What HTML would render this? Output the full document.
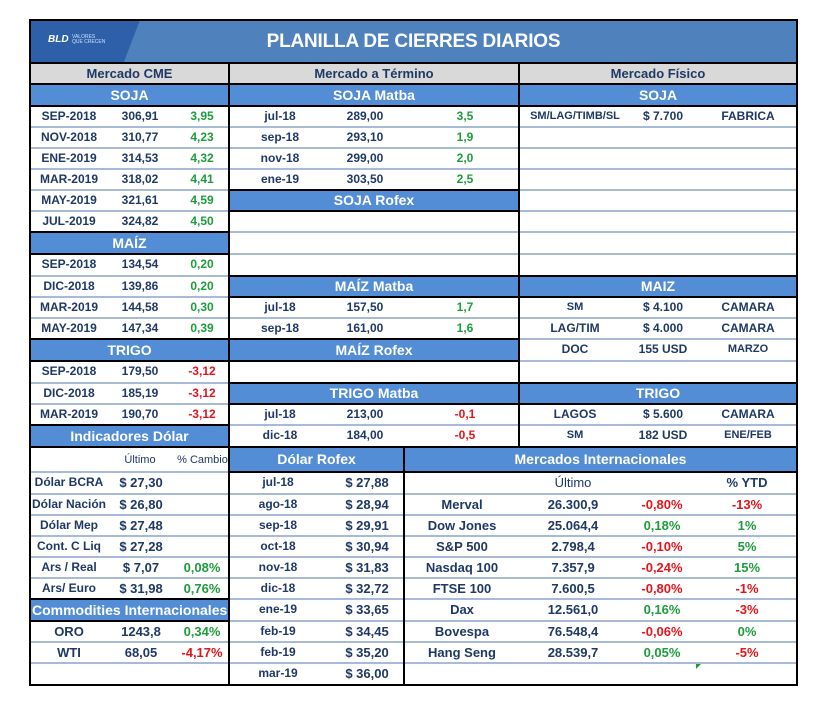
<!DOCTYPE html>
<html><head><meta charset="utf-8"><style>
body{margin:0;width:821px;height:705px;background:#fff;position:relative;overflow:hidden;font-family:"Liberation Sans",sans-serif}
div{position:absolute;box-sizing:border-box}
.t{color:#1f3864;font-weight:bold;font-size:12px;text-align:center;white-space:nowrap;height:21px;line-height:21px}
.g{color:#1e9c3c}.r{color:#e3141c}
.hb{background:#538dd5}
.h{color:#fff;font-weight:bold;font-size:14px;text-align:center;white-space:nowrap;height:22px;line-height:22px;overflow:hidden}
.s{height:2px;background:#a7bad6}
.k{background:#000}
</style></head><body>
<!-- title -->
<div style="left:30px;top:20px;width:767px;height:43px;background:#4f81bd"></div>
<div style="left:30px;top:20px;width:110px;height:43px;background:#2d60a9;clip-path:polygon(0 0,100% 0,85% 100%,0 100%)"></div>
<div style="left:48px;top:34px;color:#fff;font:bold italic 10px 'Liberation Sans',sans-serif">BLD</div>
<div style="left:72px;top:35px;color:#cfe0f5;font:5px 'Liberation Sans',sans-serif;line-height:5px">VALORES<br>QUE CRECEN</div>
<div style="left:30px;top:20px;width:767px;height:43px;line-height:43px;text-align:center;color:#fff;font-weight:bold;font-size:19px;letter-spacing:-0.2px">PLANILLA DE CIERRES DIARIOS</div>
<!-- gray header -->
<div style="left:30px;top:63px;width:767px;height:21px;background:#d9d9d9"></div>
<div class="t" style="left:30px;top:63px;width:199px;font-size:13px">Mercado CME</div>
<div class="t" style="left:229px;top:63px;width:290px;font-size:13px">Mercado a Término</div>
<div class="t" style="left:519px;top:63px;width:278px;font-size:13px">Mercado Físico</div>
<!-- separators top part -->
<div class="s" style="left:30px;top:126px;width:767px"></div>
<div class="s" style="left:30px;top:147px;width:767px"></div>
<div class="s" style="left:30px;top:168px;width:767px"></div>
<div class="s" style="left:30px;top:189px;width:767px"></div>
<div class="s" style="left:30px;top:210px;width:767px"></div>
<div class="s" style="left:30px;top:231px;width:767px"></div>
<div class="s" style="left:30px;top:253px;width:767px"></div>
<div class="s" style="left:30px;top:275px;width:767px"></div>
<div class="s" style="left:30px;top:296px;width:767px"></div>
<div class="s" style="left:30px;top:317px;width:767px"></div>
<div class="s" style="left:30px;top:338px;width:767px"></div>
<div class="s" style="left:30px;top:360px;width:767px"></div>
<div class="s" style="left:30px;top:382px;width:767px"></div>
<div class="s" style="left:30px;top:403px;width:767px"></div>
<div class="s" style="left:30px;top:424px;width:767px"></div>
<!-- bottom separators -->
<div class="s" style="left:30px;top:471px;width:767px"></div>
<div class="s" style="left:30px;top:493px;width:767px"></div>
<div class="s" style="left:30px;top:514px;width:767px"></div>
<div class="s" style="left:30px;top:535px;width:767px"></div>
<div class="s" style="left:30px;top:556px;width:767px"></div>
<div class="s" style="left:30px;top:577px;width:767px"></div>
<div class="s" style="left:30px;top:598px;width:767px"></div>
<div class="s" style="left:30px;top:620px;width:767px"></div>
<div class="s" style="left:30px;top:641px;width:767px"></div>
<div class="s" style="left:30px;top:662px;width:767px"></div>
<!-- blue headers -->
<div class="hb h" style="left:30px;top:84px;width:199px">SOJA</div>
<div class="hb h" style="left:229px;top:84px;width:290px">SOJA Matba</div>
<div class="hb h" style="left:519px;top:84px;width:278px">SOJA</div>
<div class="hb h" style="left:229px;top:190px;width:290px;height:21px;line-height:21px">SOJA Rofex</div>
<div class="hb h" style="left:30px;top:232px;width:199px">MAÍZ</div>
<div class="hb h" style="left:229px;top:276px;width:290px;height:21px;line-height:21px">MAÍZ Matba</div>
<div class="hb h" style="left:519px;top:276px;width:278px;height:21px;line-height:21px">MAIZ</div>
<div class="hb h" style="left:30px;top:339px;width:199px">TRIGO</div>
<div class="hb h" style="left:229px;top:339px;width:290px">MAÍZ Rofex</div>
<div class="hb h" style="left:229px;top:383px;width:290px;height:21px;line-height:21px">TRIGO Matba</div>
<div class="hb h" style="left:519px;top:383px;width:278px;height:21px;line-height:21px">TRIGO</div>
<div class="hb h" style="left:30px;top:425px;width:199px">Indicadores Dólar</div>
<div class="hb h" style="left:229px;top:447px;width:175px;height:25px;line-height:25px">Dólar Rofex</div>
<div class="hb h" style="left:404px;top:447px;width:393px;height:25px;line-height:25px">Mercados Internacionales</div>
<div class="hb h" style="left:30px;top:599px;width:199px;text-align:left;padding-left:2px">Commodities Internacionales</div>
<!-- CME rows -->
<div class="t" style="left:30px;top:106px;width:78px">SEP-2018</div><div class="t" style="left:112px;top:106px;width:56px">306,91</div><div class="t g" style="left:180px;top:106px;width:44px">3,95</div>
<div class="t" style="left:30px;top:127px;width:78px">NOV-2018</div><div class="t" style="left:112px;top:127px;width:56px">310,77</div><div class="t g" style="left:180px;top:127px;width:44px">4,23</div>
<div class="t" style="left:30px;top:148px;width:78px">ENE-2019</div><div class="t" style="left:112px;top:148px;width:56px">314,53</div><div class="t g" style="left:180px;top:148px;width:44px">4,32</div>
<div class="t" style="left:30px;top:169px;width:78px">MAR-2019</div><div class="t" style="left:112px;top:169px;width:56px">318,02</div><div class="t g" style="left:180px;top:169px;width:44px">4,41</div>
<div class="t" style="left:30px;top:190px;width:78px">MAY-2019</div><div class="t" style="left:112px;top:190px;width:56px">321,61</div><div class="t g" style="left:180px;top:190px;width:44px">4,59</div>
<div class="t" style="left:30px;top:211px;width:78px">JUL-2019</div><div class="t" style="left:112px;top:211px;width:56px">324,82</div><div class="t g" style="left:180px;top:211px;width:44px">4,50</div>
<div class="t" style="left:30px;top:254px;width:78px">SEP-2018</div><div class="t" style="left:112px;top:254px;width:56px">134,54</div><div class="t g" style="left:180px;top:254px;width:44px">0,20</div>
<div class="t" style="left:30px;top:276px;width:78px">DIC-2018</div><div class="t" style="left:112px;top:276px;width:56px">139,86</div><div class="t g" style="left:180px;top:276px;width:44px">0,20</div>
<div class="t" style="left:30px;top:297px;width:78px">MAR-2019</div><div class="t" style="left:112px;top:297px;width:56px">144,58</div><div class="t g" style="left:180px;top:297px;width:44px">0,30</div>
<div class="t" style="left:30px;top:318px;width:78px">MAY-2019</div><div class="t" style="left:112px;top:318px;width:56px">147,34</div><div class="t g" style="left:180px;top:318px;width:44px">0,39</div>
<div class="t" style="left:30px;top:361px;width:78px">SEP-2018</div><div class="t" style="left:112px;top:361px;width:56px">179,50</div><div class="t r" style="left:180px;top:361px;width:44px">-3,12</div>
<div class="t" style="left:30px;top:383px;width:78px">DIC-2018</div><div class="t" style="left:112px;top:383px;width:56px">185,19</div><div class="t r" style="left:180px;top:383px;width:44px">-3,12</div>
<div class="t" style="left:30px;top:404px;width:78px">MAR-2019</div><div class="t" style="left:112px;top:404px;width:56px">190,70</div><div class="t r" style="left:180px;top:404px;width:44px">-3,12</div>
<!-- Mercado a termino -->
<div class="t" style="left:250px;top:106px;width:60px">jul-18</div><div class="t" style="left:335px;top:106px;width:60px">289,00</div><div class="t g" style="left:445px;top:106px;width:40px">3,5</div>
<div class="t" style="left:250px;top:127px;width:60px">sep-18</div><div class="t" style="left:335px;top:127px;width:60px">293,10</div><div class="t g" style="left:445px;top:127px;width:40px">1,9</div>
<div class="t" style="left:250px;top:148px;width:60px">nov-18</div><div class="t" style="left:335px;top:148px;width:60px">299,00</div><div class="t g" style="left:445px;top:148px;width:40px">2,0</div>
<div class="t" style="left:250px;top:169px;width:60px">ene-19</div><div class="t" style="left:335px;top:169px;width:60px">303,50</div><div class="t g" style="left:445px;top:169px;width:40px">2,5</div>
<div class="t" style="left:250px;top:297px;width:60px">jul-18</div><div class="t" style="left:335px;top:297px;width:60px">157,50</div><div class="t g" style="left:445px;top:297px;width:40px">1,7</div>
<div class="t" style="left:250px;top:318px;width:60px">sep-18</div><div class="t" style="left:335px;top:318px;width:60px">161,00</div><div class="t g" style="left:445px;top:318px;width:40px">1,6</div>
<div class="t" style="left:250px;top:404px;width:60px">jul-18</div><div class="t" style="left:335px;top:404px;width:60px">213,00</div><div class="t r" style="left:445px;top:404px;width:40px">-0,1</div>
<div class="t" style="left:250px;top:425px;width:60px">dic-18</div><div class="t" style="left:335px;top:425px;width:60px">184,00</div><div class="t r" style="left:445px;top:425px;width:40px">-0,5</div>
<!-- Fisico -->
<div class="t" style="left:522px;top:106px;width:106px;font-size:11px">SM/LAG/TIMB/SL</div><div class="t" style="left:633px;top:106px;width:60px">$ 7.700</div><div class="t" style="left:715px;top:106px;width:66px">FABRICA</div>
<div class="t" style="left:545px;top:297px;width:60px;font-size:11px">SM</div><div class="t" style="left:633px;top:297px;width:60px">$ 4.100</div><div class="t" style="left:715px;top:297px;width:66px">CAMARA</div>
<div class="t" style="left:545px;top:318px;width:60px">LAG/TIM</div><div class="t" style="left:633px;top:318px;width:60px">$ 4.000</div><div class="t" style="left:715px;top:318px;width:66px">CAMARA</div>
<div class="t" style="left:545px;top:339px;width:60px">DOC</div><div class="t" style="left:633px;top:339px;width:60px">155 USD</div><div class="t" style="left:715px;top:339px;width:66px;font-size:11px">MARZO</div>
<div class="t" style="left:545px;top:404px;width:60px">LAGOS</div><div class="t" style="left:633px;top:404px;width:60px">$ 5.600</div><div class="t" style="left:715px;top:404px;width:66px">CAMARA</div>
<div class="t" style="left:545px;top:425px;width:60px;font-size:11px">SM</div><div class="t" style="left:633px;top:425px;width:60px">182 USD</div><div class="t" style="left:715px;top:425px;width:66px;font-size:11px">ENE/FEB</div>
<!-- Indicadores dolar -->
<div class="t" style="left:115px;top:449px;width:50px;font-size:11px;font-weight:normal;height:23px;line-height:23px">Último</div>
<div class="t" style="left:176px;top:449px;width:53px;font-size:11px;font-weight:normal;height:23px;line-height:23px;overflow:hidden">% Cambio</div>
<div class="t" style="left:32px;top:472px;width:74px">Dólar BCRA</div><div class="t" style="left:112px;top:472px;width:58px;font-size:13px">$ 27,30</div>
<div class="t" style="left:32px;top:494px;width:74px">Dólar Nación</div><div class="t" style="left:112px;top:494px;width:58px;font-size:13px">$ 26,80</div>
<div class="t" style="left:32px;top:515px;width:74px">Dólar Mep</div><div class="t" style="left:112px;top:515px;width:58px;font-size:13px">$ 27,48</div>
<div class="t" style="left:32px;top:536px;width:74px">Cont. C Liq</div><div class="t" style="left:112px;top:536px;width:58px;font-size:13px">$ 27,28</div>
<div class="t" style="left:32px;top:557px;width:74px">Ars / Real</div><div class="t" style="left:112px;top:557px;width:58px;font-size:13px">$ 7,07</div><div class="t g" style="left:178px;top:557px;width:48px;font-size:13px">0,08%</div>
<div class="t" style="left:32px;top:578px;width:74px">Ars/ Euro</div><div class="t" style="left:112px;top:578px;width:58px;font-size:13px">$ 31,98</div><div class="t g" style="left:178px;top:578px;width:48px;font-size:13px">0,76%</div>
<div class="t" style="left:32px;top:621px;width:74px;font-size:13px">ORO</div><div class="t" style="left:112px;top:621px;width:58px;font-size:13px">1243,8</div><div class="t g" style="left:178px;top:621px;width:48px;font-size:13px">0,34%</div>
<div class="t" style="left:32px;top:642px;width:74px;font-size:13px">WTI</div><div class="t" style="left:112px;top:642px;width:58px;font-size:13px">68,05</div><div class="t r" style="left:178px;top:642px;width:48px;font-size:13px">-4,17%</div>
<!-- Dolar Rofex -->
<div class="t" style="left:250px;top:472px;width:56px">jul-18</div><div class="t" style="left:335px;top:472px;width:64px;font-size:13px">$ 27,88</div>
<div class="t" style="left:250px;top:494px;width:56px">ago-18</div><div class="t" style="left:335px;top:494px;width:64px;font-size:13px">$ 28,94</div>
<div class="t" style="left:250px;top:515px;width:56px">sep-18</div><div class="t" style="left:335px;top:515px;width:64px;font-size:13px">$ 29,91</div>
<div class="t" style="left:250px;top:536px;width:56px">oct-18</div><div class="t" style="left:335px;top:536px;width:64px;font-size:13px">$ 30,94</div>
<div class="t" style="left:250px;top:557px;width:56px">nov-18</div><div class="t" style="left:335px;top:557px;width:64px;font-size:13px">$ 31,83</div>
<div class="t" style="left:250px;top:578px;width:56px">dic-18</div><div class="t" style="left:335px;top:578px;width:64px;font-size:13px">$ 32,72</div>
<div class="t" style="left:250px;top:599px;width:56px">ene-19</div><div class="t" style="left:335px;top:599px;width:64px;font-size:13px">$ 33,65</div>
<div class="t" style="left:250px;top:621px;width:56px">feb-19</div><div class="t" style="left:335px;top:621px;width:64px;font-size:13px">$ 34,45</div>
<div class="t" style="left:250px;top:642px;width:56px">feb-19</div><div class="t" style="left:335px;top:642px;width:64px;font-size:13px">$ 35,20</div>
<div class="t" style="left:250px;top:663px;width:56px">mar-19</div><div class="t" style="left:335px;top:663px;width:64px;font-size:13px">$ 36,00</div>
<!-- Mercados internacionales -->
<div class="t" style="left:540px;top:472px;width:66px;font-size:13px;font-weight:normal">Último</div><div class="t" style="left:720px;top:472px;width:54px;font-size:13px">% YTD</div>
<div class="t" style="left:412px;top:494px;width:100px;font-size:13px">Merval</div><div class="t" style="left:530px;top:494px;width:86px;font-size:13px">26.300,9</div><div class="t r" style="left:625px;top:494px;width:74px;font-size:13px">-0,80%</div><div class="t r" style="left:720px;top:494px;width:54px;font-size:13px">-13%</div>
<div class="t" style="left:412px;top:515px;width:100px;font-size:13px">Dow Jones</div><div class="t" style="left:530px;top:515px;width:86px;font-size:13px">25.064,4</div><div class="t g" style="left:625px;top:515px;width:74px;font-size:13px">0,18%</div><div class="t g" style="left:720px;top:515px;width:54px;font-size:13px">1%</div>
<div class="t" style="left:412px;top:536px;width:100px;font-size:13px">S&amp;P 500</div><div class="t" style="left:530px;top:536px;width:86px;font-size:13px">2.798,4</div><div class="t r" style="left:625px;top:536px;width:74px;font-size:13px">-0,10%</div><div class="t g" style="left:720px;top:536px;width:54px;font-size:13px">5%</div>
<div class="t" style="left:412px;top:557px;width:100px;font-size:13px">Nasdaq 100</div><div class="t" style="left:530px;top:557px;width:86px;font-size:13px">7.357,9</div><div class="t r" style="left:625px;top:557px;width:74px;font-size:13px">-0,24%</div><div class="t g" style="left:720px;top:557px;width:54px;font-size:13px">15%</div>
<div class="t" style="left:412px;top:578px;width:100px;font-size:13px">FTSE 100</div><div class="t" style="left:530px;top:578px;width:86px;font-size:13px">7.600,5</div><div class="t r" style="left:625px;top:578px;width:74px;font-size:13px">-0,80%</div><div class="t r" style="left:720px;top:578px;width:54px;font-size:13px">-1%</div>
<div class="t" style="left:412px;top:599px;width:100px;font-size:13px">Dax</div><div class="t" style="left:530px;top:599px;width:86px;font-size:13px">12.561,0</div><div class="t g" style="left:625px;top:599px;width:74px;font-size:13px">0,16%</div><div class="t r" style="left:720px;top:599px;width:54px;font-size:13px">-3%</div>
<div class="t" style="left:412px;top:621px;width:100px;font-size:13px">Bovespa</div><div class="t" style="left:530px;top:621px;width:86px;font-size:13px">76.548,4</div><div class="t r" style="left:625px;top:621px;width:74px;font-size:13px">-0,06%</div><div class="t g" style="left:720px;top:621px;width:54px;font-size:13px">0%</div>
<div class="t" style="left:412px;top:642px;width:100px;font-size:13px">Hang Seng</div><div class="t" style="left:530px;top:642px;width:86px;font-size:13px">28.539,7</div><div class="t g" style="left:625px;top:642px;width:74px;font-size:13px">0,05%</div><div class="t r" style="left:720px;top:642px;width:54px;font-size:13px">-5%</div>
<div style="left:696px;top:664px;width:0;height:0;border-top:5px solid #1e9c3c;border-right:5px solid transparent"></div>
<!-- black lines -->
<div class="k" style="left:30px;top:62px;width:767px;height:2px"></div>
<div class="k" style="left:30px;top:83px;width:767px;height:2px"></div>
<div class="k" style="left:30px;top:105px;width:767px;height:2px"></div>
<div class="k" style="left:229px;top:189px;width:290px;height:2px"></div>
<div class="k" style="left:229px;top:210px;width:290px;height:2px"></div>
<div class="k" style="left:30px;top:231px;width:199px;height:2px"></div>
<div class="k" style="left:30px;top:253px;width:199px;height:2px"></div>
<div class="k" style="left:229px;top:275px;width:568px;height:2px"></div>
<div class="k" style="left:229px;top:296px;width:568px;height:2px"></div>
<div class="k" style="left:30px;top:338px;width:489px;height:2px"></div>
<div class="k" style="left:30px;top:360px;width:489px;height:2px"></div>
<div class="k" style="left:229px;top:382px;width:568px;height:2px"></div>
<div class="k" style="left:229px;top:403px;width:568px;height:2px"></div>
<div class="k" style="left:30px;top:424px;width:199px;height:2px"></div>
<div class="k" style="left:30px;top:446px;width:767px;height:2px"></div>
<div class="k" style="left:229px;top:471px;width:568px;height:2px"></div>
<div class="k" style="left:30px;top:598px;width:199px;height:2px"></div>
<div class="k" style="left:30px;top:620px;width:199px;height:2px"></div>
<div class="k" style="left:228px;top:62px;width:2px;height:623px"></div>
<div class="k" style="left:518px;top:62px;width:2px;height:385px"></div>
<div class="k" style="left:403px;top:447px;width:2px;height:238px"></div>
<div style="left:29px;top:19px;width:769px;height:667px;border:2px solid #000"></div>
</body></html>
